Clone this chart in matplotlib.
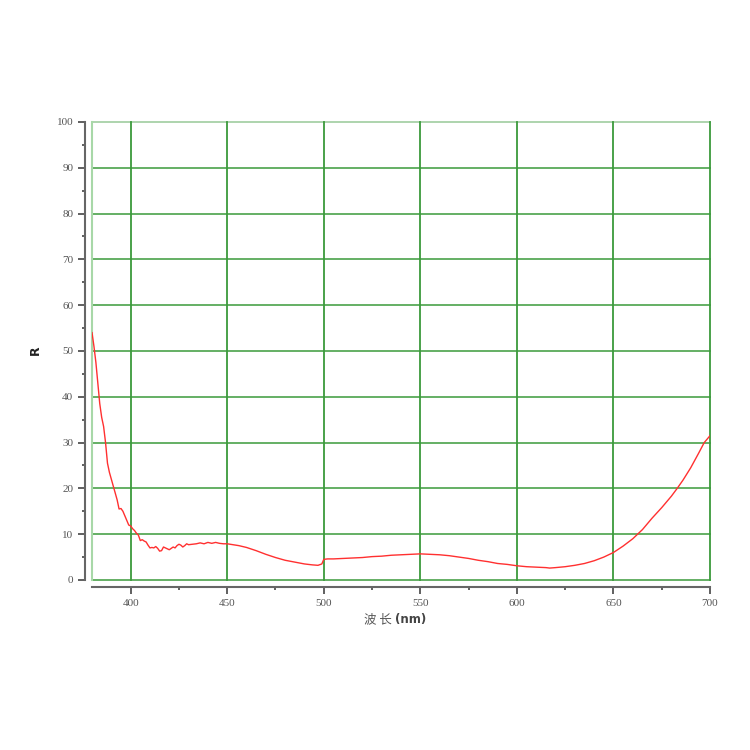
import matplotlib
matplotlib.use('Agg')
import matplotlib.pyplot as plt
from matplotlib.ticker import MultipleLocator

# длина волны (nm) и коэффициент отражения R
wavelength = [380, 381, 382, 383, 384, 385, 386, 387, 388, 389, 390, 391, 392, 393, 394,
              395, 396, 397, 398, 399, 400, 401, 402, 403, 404, 405, 406, 407, 408, 409,
              410, 411, 412, 413, 414, 415, 416, 417, 418, 419, 420, 421, 422, 423, 424,
              425, 426, 427, 428, 429, 430, 432, 434, 436, 438, 440, 442, 444, 446, 448,
              450, 453, 456, 460, 465, 470, 475, 480, 485, 490, 494, 497, 499, 500, 502,
              505, 510, 515, 520, 525, 530, 535, 540, 545, 550, 555, 560, 565, 570, 575,
              580, 585, 590, 595, 600, 605, 610, 615, 617, 620, 625, 630, 635, 640, 645,
              650, 655, 660, 662, 665, 670, 675, 680, 683, 686, 690, 694, 697, 700]
reflect = [54.0, 51.0, 47.5, 43.0, 38.5, 35.5, 33.5, 30.0, 25.5, 23.5, 22.0, 20.5, 19.0, 17.5, 15.5,
           15.6, 15.0, 14.0, 13.0, 12.0, 11.8, 11.2, 10.8, 10.2, 9.8, 8.6, 8.8, 8.5, 8.3, 7.6,
           7.0, 7.1, 7.0, 7.3, 6.9, 6.3, 6.4, 7.2, 7.0, 6.8, 6.6, 6.9, 7.2, 7.0, 7.5,
           7.8, 7.6, 7.2, 7.5, 7.9, 7.7, 7.8, 7.9, 8.1, 7.9, 8.2, 8.0, 8.2, 8.0, 7.9,
           7.9, 7.7, 7.5, 7.1, 6.4, 5.6, 4.9, 4.3, 3.9, 3.5, 3.3, 3.2, 3.5, 4.5, 4.6,
           4.6, 4.7, 4.8, 4.9, 5.1, 5.2, 5.4, 5.5, 5.6, 5.7, 5.6, 5.5, 5.3, 5.0, 4.7,
           4.3, 4.0, 3.6, 3.4, 3.1, 2.9, 2.8, 2.7, 2.6, 2.7, 2.9, 3.2, 3.6, 4.2, 5.0,
           6.0, 7.4, 9.0, 9.8, 11.0, 13.5, 15.8, 18.3, 20.0, 21.8, 24.5, 27.6, 30.0, 31.5]

xticks = [400, 450, 500, 550, 600, 650, 700]
yticks = [0, 10, 20, 30, 40, 50, 60, 70, 80, 90, 100]

grid_color = '#3c9a3c'
tick_color = '#555555'

fig = plt.figure(figsize=(7.5, 7.5), dpi=100)
ax = fig.add_axes([0.1227, 0.2267, 0.824, 0.6107])

ax.plot(wavelength, reflect, color='#ff3030', linewidth=1.0, zorder=3)

ax.set_xlim(380, 700)
ax.set_ylim(0, 100)
ax.set_xticks(xticks)
ax.set_yticks(yticks)
ax.xaxis.set_minor_locator(MultipleLocator(25))
ax.yaxis.set_minor_locator(MultipleLocator(5))

# сетка
for x in xticks:
    ax.axvline(x, color=grid_color, linewidth=1.3, clip_on=False, zorder=1)
for y in yticks:
    ax.axhline(y, color=grid_color, linewidth=1.3, alpha=0.85 if y < 100 else 0.45,
               clip_on=False, zorder=1)
ax.axvline(380, color='#a8d8a8', linewidth=1.5, clip_on=False, zorder=1)

for side in ['top', 'right']:
    ax.spines[side].set_visible(False)
for side in ['left', 'bottom']:
    ax.spines[side].set_position(('outward', 5))
    ax.spines[side].set_color('#666666')
    ax.spines[side].set_linewidth(1.5)

ax.tick_params(axis='both', which='major', length=5, width=1.2, color='#444444',
               labelsize=8, labelcolor=tick_color)
ax.tick_params(axis='both', which='minor', length=2.5, width=1.2, color='#444444')
for lab in ax.get_xticklabels() + ax.get_yticklabels():
    lab.set_family('Liberation Serif')

fig.text(0.047, 0.533, 'R', fontsize=9, fontweight='bold', ha='center', va='center',
         rotation=90, color='#222222')
fig.text(0.523, 0.174, '波 长', fontsize=9, family='Noto Sans CJK SC', color='#555555',
         ha='right', va='center')
fig.text(0.527, 0.174, '(nm)', fontsize=8.5, fontweight='bold', color='#444444',
         ha='left', va='center')

fig.savefig('out.png', dpi=100)
